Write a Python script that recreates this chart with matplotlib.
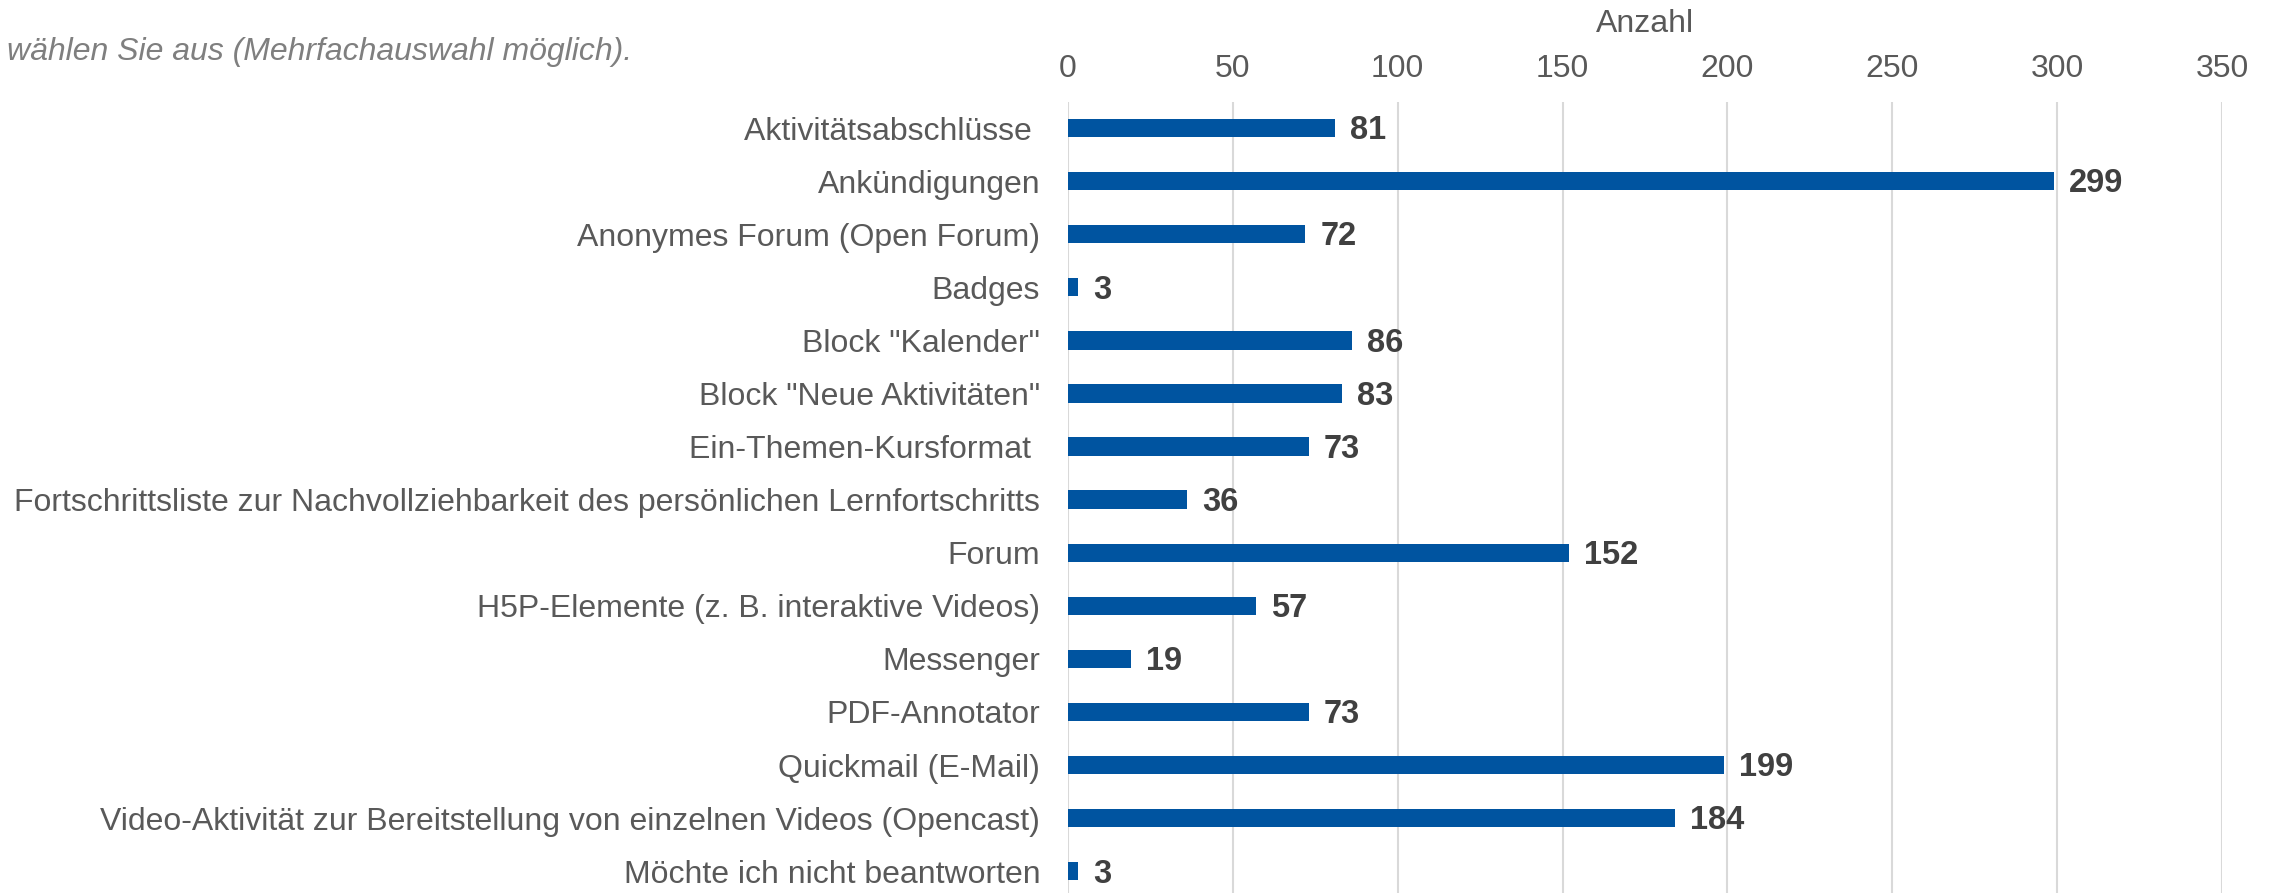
import matplotlib
matplotlib.use('Agg')
import matplotlib.pyplot as plt

categories = [
    'Aktivitätsabschlüsse ',
    'Ankündigungen',
    'Anonymes Forum (Open Forum)',
    'Badges',
    'Block "Kalender"',
    'Block "Neue Aktivitäten"',
    'Ein-Themen-Kursformat ',
    'Fortschrittsliste zur Nachvollziehbarkeit des persönlichen Lernfortschritts',
    'Forum',
    'H5P-Elemente (z. B. interaktive Videos)',
    'Messenger',
    'PDF-Annotator',
    'Quickmail (E-Mail)',
    'Video-Aktivität zur Bereitstellung von einzelnen Videos (Opencast)',
    'Möchte ich nicht beantworten',
]
counts = [81, 299, 72, 3, 86, 83, 73, 36, 152, 57, 19, 73, 199, 184, 3]
xticks = [0, 50, 100, 150, 200, 250, 300, 350]

title = 'wählen Sie aus (Mehrfachauswahl möglich).'
x_title = 'Anzahl'

bar_color = '#0054a0'
text_gray = '#595959'
fs = 23

plt.rcParams['font.family'] = ['Liberation Sans', 'DejaVu Sans']

fig = plt.figure(figsize=(22.72, 8.93), dpi=100)
ax = fig.add_axes([1068 / 2272, 0.0, (2222 - 1068) / 2272, 1 - 102 / 893])

positions = list(range(len(categories)))
ax.barh(positions, counts, height=0.345, color=bar_color, zorder=3)

# value labels right of the bars
for pos, val in zip(positions, counts):
    ax.annotate(str(val), xy=(val, pos), xytext=(11, -2), textcoords='offset points',
                va='center', ha='left', fontsize=fs + 0.5, fontweight='bold', color='#404040')

ax.set_xlim(0, 350)
ax.set_ylim(14.41, -0.49)
ax.set_yticks(positions)
ax.set_yticklabels(categories)
ax.set_xticks(xticks)
ax.xaxis.tick_top()
ax.xaxis.set_label_position('top')
ax.set_xlabel(x_title, fontsize=fs, color=text_gray, labelpad=16)
ax.tick_params(axis='both', length=0, labelsize=fs, colors=text_gray)
ax.tick_params(axis='x', pad=13)
ax.tick_params(axis='y', pad=20)

ax.grid(axis='x', color='#d9d9d9', linewidth=1.5, zorder=0)
for s in ax.spines.values():
    s.set_visible(False)

fig.text(7 / 2272, 1 - 60 / 893, title, fontsize=fs, style='italic', color='#7f7f7f',
         ha='left', va='baseline')

fig.savefig('out.png', dpi=100)
